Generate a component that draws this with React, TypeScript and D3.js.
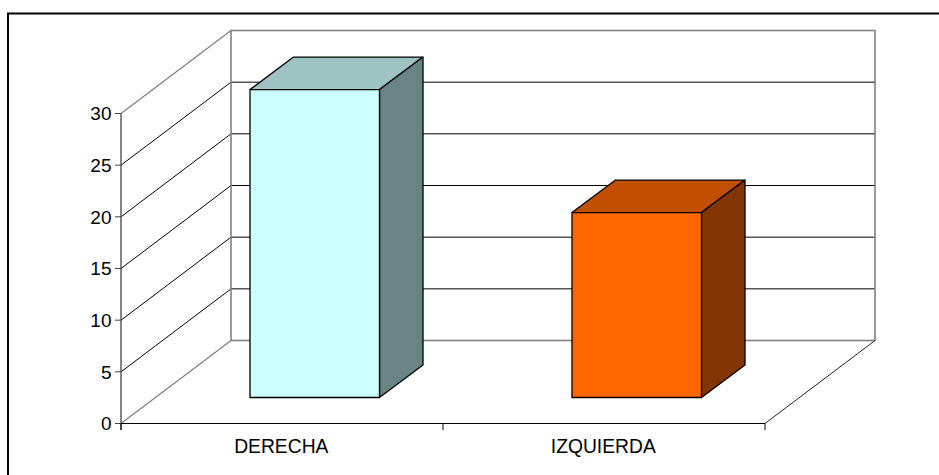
import React from "react";
import * as d3 from "d3";

const categories = ["DERECHA", "IZQUIERDA"];
const barValues = [29.8, 17.9];
const yTicks = [0, 5, 10, 15, 20, 25, 30];
const frontColors = ["#ccffff", "#ff6600"];
const topColors = ["#9fc2c2", "#c24e00"];
const sideColors = ["#688484", "#833500"];

const WIDTH = 939;
const HEIGHT = 475;
// Oblique projection: how far the back wall sits from the front plane.
const wallDx = 110;
const wallDy = -83;
// Bar depth and the bar's position on the floor.
const barDx = 43.5;
const barDy = -32.5;
const floorLift = 26;
const floorShift = 33.5;
const font = "'Liberation Sans', Arial, sans-serif";

const yScale = d3.scaleLinear().domain([0, 30]).range([423.5, 113.5]);
const xScale = d3.scaleBand<string>().domain(categories).range([121, 765]);

const pts = (p: [number, number][]) => p.map((q) => q.join(",")).join(" ");

export default function App() {
  const y0 = yScale(0);
  const yMax = yScale(30);
  const xL = xScale.range()[0];
  const xR = xScale.range()[1];
  const band = xScale.bandwidth();
  const barW = 129.5;

  return (
    <svg
      width={WIDTH}
      height={HEIGHT}
      style={{ position: "absolute", left: 0, top: 0, background: "#fff" }}
    >
      {/* Outer frame, open at the bottom and right edges */}
      <path d={`M8,475 V13.5 H939`} fill="none" stroke="#000" strokeWidth={2} />

      {/* Back and side wall gridlines */}
      {yTicks.filter((t) => t !== 0 && t !== 30).map((t) => (
        <g key={t} stroke="#000" strokeWidth={1} fill="none">
          <line x1={xL} y1={yScale(t)} x2={xL + wallDx} y2={yScale(t) + wallDy} />
          <line x1={xL + wallDx} y1={yScale(t) + wallDy} x2={xR + wallDx} y2={yScale(t) + wallDy} />
        </g>
      ))}

      {/* Wall outline */}
      <g stroke="#808080" fill="none">
        <line x1={xL} y1={yMax} x2={xL + wallDx} y2={yMax + wallDy} strokeWidth={1.3} />
        <line x1={xL} y1={y0} x2={xL + wallDx} y2={y0 + wallDy} strokeWidth={1.3} />
        <rect x={xL + wallDx} y={yMax + wallDy} width={xR - xL} height={y0 - yMax} strokeWidth={1.6} />
      </g>

      {/* Floor edge on the right */}
      <line x1={xR} y1={y0} x2={xR + wallDx} y2={y0 + wallDy} stroke="#222" strokeWidth={1} />

      {/* Bars */}
      {categories.map((c, i) => {
        const x = (xScale(c) as number) + (band - 130) / 2 + floorShift - 0.5;
        const base = y0 - floorLift;
        const top = base - (y0 - yScale(barValues[i]));
        const r = x + barW;
        return (
          <g key={c} stroke="#000" strokeWidth={1.3} strokeLinejoin="round">
            <polygon
              points={pts([[x, top], [x + barDx, top + barDy], [r + barDx, top + barDy], [r, top]])}
              fill={topColors[i]}
            />
            <polygon
              points={pts([[r, top], [r + barDx, top + barDy], [r + barDx, base + barDy], [r, base]])}
              fill={sideColors[i]}
            />
            <rect x={x} y={top} width={barW} height={base - top} fill={frontColors[i]} />
          </g>
        );
      })}

      {/* Value axis */}
      <line x1={xL} y1={yMax} x2={xL} y2={y0 + 6.5} stroke="#444" strokeWidth={1.3} />
      {yTicks.map((t) => (
        <g key={t}>
          <line x1={xL - 6} y1={yScale(t)} x2={xL} y2={yScale(t)} stroke="#444" strokeWidth={1} />
          <text
            x={xL - 9.5}
            y={yScale(t)}
            dy="0.36em"
            textAnchor="end"
            fontFamily={font}
            fontSize={19}
            fill="#000"
          >
            {t}
          </text>
        </g>
      ))}

      {/* Category axis */}
      <line x1={xL} y1={y0} x2={xR} y2={y0} stroke="#000" strokeWidth={1} />
      {[xL, xL + band, xR].map((x) => (
        <line key={x} x1={x} y1={y0} x2={x} y2={y0 + 6.5} stroke="#000" strokeWidth={1} />
      ))}
      {categories.map((c) => (
        <text
          key={c}
          x={(xScale(c) as number) + band / 2 - 0.7}
          y={453}
          textAnchor="middle"
          fontFamily={font}
          fontSize={19.3}
          fill="#000"
        >
          {c}
        </text>
      ))}
    </svg>
  );
}
